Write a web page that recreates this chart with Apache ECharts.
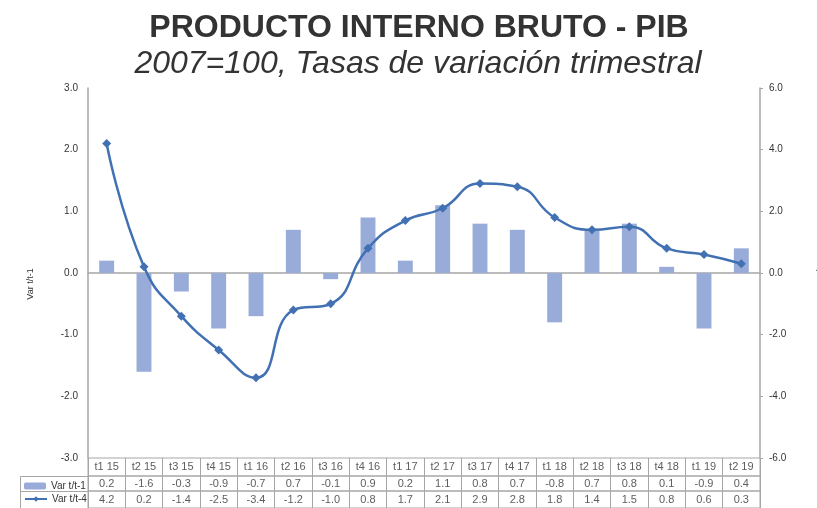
<!DOCTYPE html>
<html>
<head>
<meta charset="utf-8">
<script src="https://cdn.jsdelivr.net/npm/echarts@6/dist/echarts.min.js"></script>
<style>
html,body{margin:0;padding:0;background:#fff;}
#chart{width:817px;height:508px;}
</style>
</head>
<body>
<div id="chart"></div>
<script>
var categories = ['t1 15','t2 15','t3 15','t4 15','t1 16','t2 16','t3 16','t4 16','t1 17','t2 17','t3 17','t4 17','t1 18','t2 18','t3 18','t4 18','t1 19','t2 19'];
var varQuarter = [0.2,-1.6,-0.3,-0.9,-0.7,0.7,-0.1,0.9,0.2,1.1,0.8,0.7,-0.8,0.7,0.8,0.1,-0.9,0.4];
var varYear = [4.2,0.2,-1.4,-2.5,-3.4,-1.2,-1.0,0.8,1.7,2.1,2.9,2.8,1.8,1.4,1.5,0.8,0.6,0.3];
var leftTicks = [-3, 3, 1];
var rightTicks = [-6, 6, 2];

var FONT = 'Liberation Sans, Arial, sans-serif';
var GRID_COLOR = '#a6a6a6';
var TEXT = '#333333';
var BAR_COLOR = '#98abd9';
var LINE_COLOR = '#4170b3';

var chart = echarts.init(document.getElementById('chart'), null, {renderer: 'canvas'});

function cellSeries(name, gridIdx, texts) {
  return {
    name: name,
    type: 'scatter',
    xAxisIndex: gridIdx,
    yAxisIndex: gridIdx + 1,
    silent: true,
    symbolSize: 1,
    itemStyle: {color: 'rgba(0,0,0,0)'},
    label: {
      show: true,
      position: 'inside',
      fontFamily: FONT,
      fontSize: 11,
      color: TEXT,
      formatter: function (p) { return texts[p.dataIndex]; }
    },
    data: categories.map(function (c, i) { return [i, 0.5]; })
  };
}

function tableX(gridIdx) {
  return {
    type: 'category', gridIndex: gridIdx, data: categories,
    axisLine: {show: false}, axisTick: {show: false}, axisLabel: {show: false},
    splitLine: {show: true, interval: 0, lineStyle: {color: GRID_COLOR, width: 1}}
  };
}
function tableY(gridIdx) {
  return {
    type: 'value', gridIndex: gridIdx, min: 0, max: 1,
    axisLine: {show: false}, axisTick: {show: false}, axisLabel: {show: false},
    splitLine: {show: false}
  };
}

function legendAt(name, top) {
  return {
    data: [name],
    orient: 'horizontal',
    padding: 0,
    left: 24, top: top,
    itemWidth: 22, itemHeight: 7,
    textStyle: {fontFamily: FONT, fontSize: 10, color: TEXT},
    selectedMode: false
  };
}

var option = {
  backgroundColor: '#ffffff',
  animation: false,
  title: [
    {
      text: 'PRODUCTO INTERNO BRUTO - PIB',
      left: 414, top: 7, textAlign: 'center',
      textStyle: {fontFamily: FONT, fontSize: 32, fontWeight: 'bold', color: '#333333'}
    },
    {
      text: '2007=100, Tasas de variación trimestral',
      left: 413, top: 43, textAlign: 'center',
      textStyle: {fontFamily: FONT, fontSize: 32, fontWeight: 'normal', fontStyle: 'italic', color: '#333333'}
    }
  ],
  legend: [legendAt('Var t/t-1', 481), legendAt('Var t/t-4', 494)],
  grid: [
    {left: 88, right: 57, top: 88, bottom: 50, containLabel: false},
    {left: 88, right: 57, top: 458, height: 18, show: true, borderColor: GRID_COLOR, borderWidth: 1},
    {left: 88, right: 57, top: 476, height: 15, show: true, borderColor: GRID_COLOR, borderWidth: 1},
    {left: 88, right: 57, top: 491, height: 17, show: true, borderColor: GRID_COLOR, borderWidth: 1}
  ],
  xAxis: [
    {
      type: 'category', gridIndex: 0, data: categories,
      axisLine: {show: true, onZero: true, lineStyle: {color: GRID_COLOR, width: 1.5}},
      axisTick: {show: false}, axisLabel: {show: false}, splitLine: {show: false}
    },
    tableX(1), tableX(2), tableX(3)
  ],
  yAxis: [
    {
      type: 'value', gridIndex: 0, min: leftTicks[0], max: leftTicks[1], interval: leftTicks[2],
      axisLine: {show: true, lineStyle: {color: GRID_COLOR, width: 1.5}},
      axisTick: {show: false},
      axisLabel: {fontFamily: FONT, fontSize: 10, color: TEXT, margin: 10, formatter: function (v) { return v.toFixed(1); }},
      splitLine: {show: false}
    },
    {
      type: 'value', gridIndex: 0, position: 'right', min: rightTicks[0], max: rightTicks[1], interval: rightTicks[2],
      axisLine: {show: true, lineStyle: {color: GRID_COLOR, width: 1.5}},
      axisTick: {show: true, length: 3, lineStyle: {color: GRID_COLOR}},
      axisLabel: {fontFamily: FONT, fontSize: 10, color: TEXT, margin: 9, formatter: function (v) { return v.toFixed(1); }},
      splitLine: {show: false}
    },
    tableY(1), tableY(2), tableY(3)
  ],
  series: [
    {
      name: 'Var t/t-1', type: 'bar', xAxisIndex: 0, yAxisIndex: 0,
      barWidth: '40%', itemStyle: {color: BAR_COLOR},
      data: varQuarter, z: 2
    },
    {
      name: 'Var t/t-4', type: 'line', xAxisIndex: 0, yAxisIndex: 1,
      smooth: 0.5, symbol: 'diamond', symbolSize: 9, showSymbol: true,
      lineStyle: {color: LINE_COLOR, width: 2.5},
      itemStyle: {color: LINE_COLOR},
      data: varYear, z: 3
    },
    cellSeries('hdr', 1, categories),
    cellSeries('q', 2, varQuarter.map(function (v) { return v.toFixed(1); })),
    cellSeries('y', 3, varYear.map(function (v) { return v.toFixed(1); }))
  ],
  graphic: [
    {type: 'line', silent: true, shape: {x1: 20.5, y1: 476.5, x2: 88, y2: 476.5}, style: {stroke: GRID_COLOR, lineWidth: 1}},
    {type: 'line', silent: true, shape: {x1: 20.5, y1: 491.5, x2: 88, y2: 491.5}, style: {stroke: GRID_COLOR, lineWidth: 1}},
    {type: 'line', silent: true, shape: {x1: 20.5, y1: 476.5, x2: 20.5, y2: 508}, style: {stroke: GRID_COLOR, lineWidth: 1}},
    {type: 'text', silent: true, x: 31, y: 284, rotation: Math.PI / 2,
     style: {text: 'Var t/t-1', fontFamily: FONT, fontSize: 9, fill: TEXT, align: 'center', verticalAlign: 'middle'}},
    {type: 'text', silent: true, x: 821, y: 275, rotation: Math.PI / 2,
     style: {text: 'Var t/t-4', fontFamily: FONT, fontSize: 9, fill: TEXT, align: 'center', verticalAlign: 'middle'}}
  ]
};
chart.setOption(option);
</script>
</body>
</html>
